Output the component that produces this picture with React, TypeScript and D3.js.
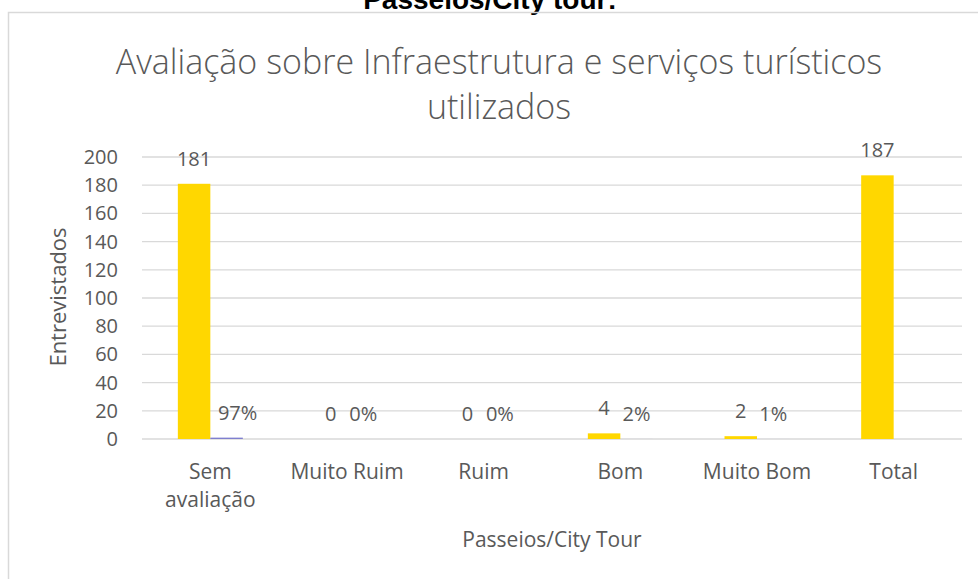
import React from "react";
import * as d3 from "d3";

// Interview counts and shares per rating for the city-tour service
const categories = ["Sem avaliação", "Muito Ruim", "Ruim", "Bom", "Muito Bom", "Total"];
const categoryLines = [["Sem", "avaliação"], ["Muito Ruim"], ["Ruim"], ["Bom"], ["Muito Bom"], ["Total"]];
const counts = [181, 0, 0, 4, 2, 187];
const shares: (number | null)[] = [0.97, 0, 0, 0.02, 0.01, null];
const yTicks = [0, 20, 40, 60, 80, 100, 120, 140, 160, 180, 200];
// horizontal nudge of each share label, clear of the tall neighbouring bar
const shareLabelShift = [11, 0, 0, 0, 0, 0];

const W = 978;
const H = 579;
const FONT = "'Open Sans', 'DejaVu Sans', sans-serif";
const TEXT = "#595959";
const GRID = "#d9d9d9";
const GOLD = "#ffd700";
const VIOLET = "#7f7fcf";

export default function App() {
  const x = d3.scaleBand<string>().domain(categories).range([142, 962]).padding(0);
  const series = d3
    .scaleBand<string>()
    .domain(["count", "share"])
    .range([0, x.bandwidth()])
    .paddingInner(0)
    .paddingOuter(1.103);
  const y = d3.scaleLinear().domain([0, 200]).range([439, 157]);

  return (
    <div style={{ position: "absolute", left: 0, top: 0 }}>
      <svg width={W} height={H} style={{ display: "block", background: "#fff" }}>
        {/* page heading, partially clipped at the top */}
        <text x={490} y={9} textAnchor="middle" fontFamily="'Liberation Sans', Arial, sans-serif" fontWeight="bold" fontSize={28} fill="#000">
          Passeios/City tour:
        </text>
        {/* chart frame */}
        <path d={`M8.5,${H} V12.5 H${W}`} fill="none" stroke={GRID} strokeWidth={1.5} />

        {/* title */}
        <text x={499} y={74} textAnchor="middle" fontFamily={FONT} fontWeight={300} fontSize={34} fill={TEXT}>
          Avaliação sobre Infraestrutura e serviços turísticos
        </text>
        <text x={499} y={119} textAnchor="middle" fontFamily={FONT} fontWeight={300} fontSize={34} fill={TEXT}>
          utilizados
        </text>

        {/* gridlines and y tick labels */}
        {yTicks.map((t) => (
          <g key={t}>
            <line x1={142} x2={962} y1={y(t)} y2={y(t)} stroke={GRID} strokeWidth={1.3} />
            <text x={118} y={y(t) + 7} textAnchor="end" fontFamily={FONT} fontSize={20} fill={TEXT}>
              {t}
            </text>
          </g>
        ))}

        {/* bars and data labels */}
        {categories.map((c, i) => {
          const gx = x(c)!;
          const bw = series.bandwidth();
          const cx = gx + series("count")!;
          const sx = gx + series("share")!;
          const s = shares[i];
          return (
            <g key={c}>
              <rect x={cx} y={y(counts[i])} width={bw} height={y(0) - y(counts[i])} fill={GOLD} />
              <text x={cx + bw / 2} y={y(counts[i]) - 18} textAnchor="middle" fontFamily={FONT} fontSize={20} fill={TEXT}>
                {counts[i]}
              </text>
              {s !== null && (
                <>
                  <rect x={sx} y={y(s)} width={bw} height={y(0) - y(s)} fill={VIOLET} />
                  <text x={sx + bw / 2 + shareLabelShift[i]} y={y(s) - 18} textAnchor="middle" fontFamily={FONT} fontSize={20} fill={TEXT}>
                    {`${Math.round(s * 100)}%`}
                  </text>
                </>
              )}
            </g>
          );
        })}

        {/* category labels */}
        {categories.map((c, i) => (
          <text key={c} x={x(c)! + x.bandwidth() / 2} y={479} textAnchor="middle" fontFamily={FONT} fontSize={21} fill={TEXT}>
            {categoryLines[i].map((ln, k) => (
              <tspan key={k} x={x(c)! + x.bandwidth() / 2} dy={k === 0 ? 0 : 28}>
                {ln}
              </tspan>
            ))}
          </text>
        ))}

        {/* axis titles */}
        <text x={552} y={547} textAnchor="middle" fontFamily={FONT} fontSize={21} fill={TEXT}>
          Passeios/City Tour
        </text>
        <text transform={`translate(66,297) rotate(-90)`} textAnchor="middle" fontFamily={FONT} fontSize={22} fill={TEXT}>
          Entrevistados
        </text>
      </svg>
    </div>
  );
}
